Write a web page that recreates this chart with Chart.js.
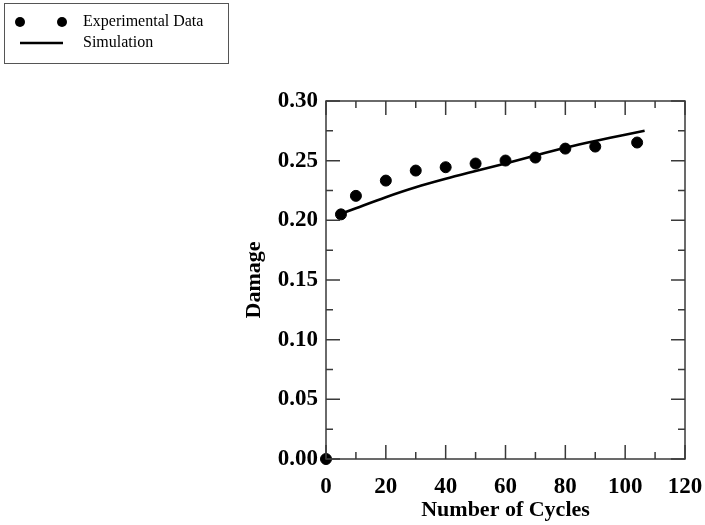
<!DOCTYPE html>
<html>
<head>
<meta charset="utf-8">
<script src="https://cdn.jsdelivr.net/npm/chart.js@4"></script>
<style>
html,body{margin:0;padding:0;background:#fff;}
#wrap{width:705px;height:525px;position:relative;}
</style>
</head>
<body>
<div id="wrap"><canvas id="c" width="705" height="525"></canvas></div>
<script>
// Data
const expCycles = [0, 5, 10, 20, 30, 40, 50, 60, 70, 80, 90, 104];
const expDamage = [0, 0.205, 0.2205, 0.2333, 0.2417, 0.2445, 0.2476, 0.2501, 0.2526, 0.2601, 0.2618, 0.2652];
const simCycles = [5, 10, 20, 30, 40, 50, 60, 70, 80, 90, 100, 106.5];
const simDamage = [0.2055, 0.2102, 0.2194, 0.2277, 0.2348, 0.2413, 0.2477, 0.2544, 0.2608, 0.2665, 0.2717, 0.2750];
const xTicks = [0, 20, 40, 60, 80, 100, 120];
const yTicks = [0, 0.05, 0.10, 0.15, 0.20, 0.25, 0.30];
const seriesNames = ["Experimental Data", "Simulation"];

const FONT = "'Liberation Serif', 'Times New Roman', serif";

const framePlugin = {
  id: 'frame',
  afterDatasetsDraw(chart) {
    const ctx = chart.ctx, a = chart.chartArea;
    const xs = chart.scales.x, ys = chart.scales.y;
    ctx.save();
    ctx.strokeStyle = '#3a3a3a';
    ctx.lineWidth = 1.5;
    ctx.strokeRect(a.left, a.top, a.right - a.left, a.bottom - a.top);
    ctx.beginPath();
    for (let v = 0; v <= 120; v += 10) {
      const px = xs.getPixelForValue(v);
      const len = (v % 20 === 0) ? 14 : 7;
      ctx.moveTo(px, a.bottom); ctx.lineTo(px, a.bottom - len);
      ctx.moveTo(px, a.top); ctx.lineTo(px, a.top + len);
    }
    for (let i = 0; i <= 12; i++) {
      const v = i * 0.025;
      const py = ys.getPixelForValue(v);
      const len = (i % 2 === 0) ? 14 : 7;
      ctx.moveTo(a.left, py); ctx.lineTo(a.left + len, py);
      ctx.moveTo(a.right, py); ctx.lineTo(a.right - len, py);
    }
    ctx.stroke();
    ctx.restore();
  },
  afterDraw(chart) {
    const ctx = chart.ctx;
    ctx.save();
    ctx.strokeStyle = '#555';
    ctx.lineWidth = 1;
    ctx.strokeRect(4.5, 3.5, 224, 60);
    ctx.fillStyle = '#000';
    ctx.beginPath(); ctx.arc(20, 22, 5, 0, Math.PI * 2); ctx.fill();
    ctx.beginPath(); ctx.arc(62, 22, 5, 0, Math.PI * 2); ctx.fill();
    ctx.strokeStyle = '#000';
    ctx.lineWidth = 2.4;
    ctx.beginPath(); ctx.moveTo(20, 43); ctx.lineTo(63, 43); ctx.stroke();
    ctx.font = '16px ' + FONT;
    ctx.textBaseline = 'middle';
    ctx.fillText(seriesNames[0], 83, 22);
    ctx.fillText(seriesNames[1], 83, 43);
    ctx.restore();
  }
};

new Chart(document.getElementById('c'), {
  type: 'scatter',
  data: {
    datasets: [
      {
        label: seriesNames[0],
        data: expCycles.map((x, i) => ({x, y: expDamage[i]})),
        backgroundColor: '#000',
        borderColor: '#000',
        pointRadius: 5.5,
        pointHoverRadius: 5.5,
        showLine: false,
        clip: false
      },
      {
        label: seriesNames[1],
        data: simCycles.map((x, i) => ({x, y: simDamage[i]})),
        borderColor: '#000',
        backgroundColor: '#000',
        borderWidth: 2.6,
        pointRadius: 0,
        showLine: true,
        tension: 0.3,
        clip: false
      }
    ]
  },
  plugins: [framePlugin],
  options: {
    responsive: false,
    animation: false,
    events: [],
    layout: { padding: { left: 230, right: 20, top: 101, bottom: 0 } },
    plugins: { legend: { display: false }, tooltip: { enabled: false } },
    scales: {
      x: {
        type: 'linear', min: 0, max: 120,
        afterBuildTicks: s => { s.ticks = xTicks.map(v => ({value: v})); },
        afterFit: s => { s.height = 66; s.paddingLeft = 0; s.paddingRight = 0; },
        grid: { display: false, drawTicks: false },
        border: { display: false },
        ticks: { color: '#000', padding: 14, font: { family: FONT, size: 23, weight: 'bold' }, maxRotation: 0,
                 callback: v => String(v) },
        title: { display: true, text: 'Number of Cycles', color: '#000', padding: { top: 0, bottom: 1 },
                 font: { family: FONT, size: 22, weight: 'bold' } }
      },
      y: {
        type: 'linear', min: 0, max: 0.3,
        afterBuildTicks: s => { s.ticks = yTicks.map(v => ({value: v})); },
        afterFit: s => { s.width = 96; s.paddingTop = 0; s.paddingBottom = 0; },
        grid: { display: false, drawTicks: false },
        border: { display: false },
        ticks: { color: '#000', padding: 8, font: { family: FONT, size: 23, weight: 'bold' },
                 callback: v => v.toFixed(2) },
        title: { display: true, text: 'Damage', color: '#000', padding: { top: 11, bottom: 0 },
                 font: { family: FONT, size: 22, weight: 'bold' } }
      }
    }
  }
});
</script>
</body>
</html>
